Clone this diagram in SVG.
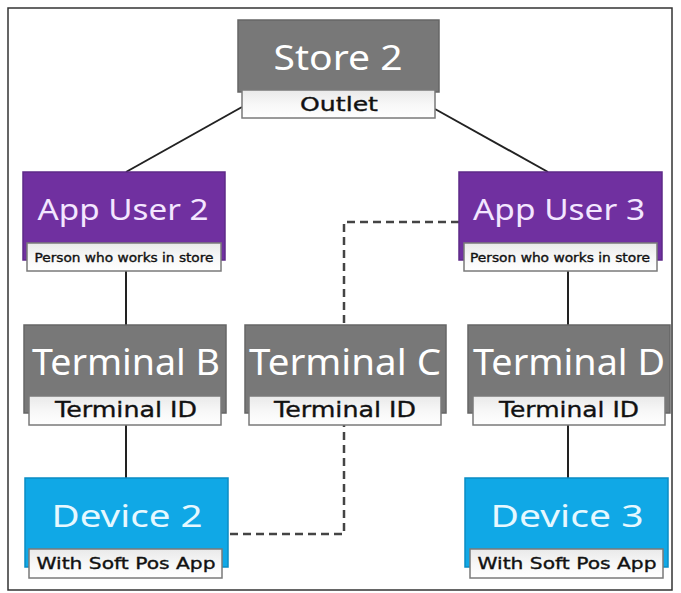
<svg xmlns="http://www.w3.org/2000/svg" width="681" height="593" viewBox="0 0 681 593">
<defs>
<linearGradient id="sub" x1="0" y1="0" x2="0" y2="1">
<stop offset="0" stop-color="#e9e9e9"/>
<stop offset="0.5" stop-color="#f7f7f7"/>
<stop offset="1" stop-color="#ffffff"/>
</linearGradient>
</defs>
<style>
.gray{fill:#787878;stroke:#666;stroke-width:1.5}
.purple{fill:#7030a0;stroke:#5e2a88;stroke-width:1.5}
.blue{fill:#10a8e6;stroke:#0a8cc4;stroke-width:1.5}
.sub{fill:url(#sub);stroke:#7a7a7a;stroke-width:1.5}
.hd{font-family:"Noto Sans","Open Sans","DejaVu Sans",sans-serif;fill:#ffffff;text-anchor:middle}
.hd2{font-family:"Noto Sans","Open Sans","DejaVu Sans",sans-serif;fill:#f3e6ff;text-anchor:middle}
.hd3{font-family:"Noto Sans","Open Sans","DejaVu Sans",sans-serif;fill:#e6f8ff;text-anchor:middle}
.st{font-family:"DejaVu Sans","Liberation Sans",sans-serif;fill:#111;stroke:#111;stroke-width:0.35;text-anchor:middle}
.ln{stroke:#222;stroke-width:2;fill:none}
.dash{stroke:#444;stroke-width:2.5;fill:none;stroke-dasharray:8 5}
</style>
<rect x="8" y="8" width="664" height="582" fill="#ffffff" stroke="#333" stroke-width="1.5"/>
<g id="connectors">
<line class="ln" x1="242" y1="107" x2="126" y2="172"/>
<line class="ln" x1="435" y1="109" x2="548" y2="172"/>
<line class="ln" x1="126" y1="270" x2="126" y2="325"/>
<line class="ln" x1="126" y1="425" x2="126" y2="478"/>
<line class="ln" x1="568" y1="270" x2="568" y2="325"/>
<line class="ln" x1="568" y1="425" x2="568" y2="478"/>
<polyline class="dash" points="230,534 344,534 344,222 459,222"/>
</g>
<g id="store2">
<rect class="gray" x="238" y="20" width="201" height="72"/>
<text class="hd" x="338" y="70" font-size="35" textLength="129" lengthAdjust="spacingAndGlyphs">Store 2</text>
<rect class="sub" x="242" y="90" width="193" height="28"/>
<text class="st" x="339" y="111" font-size="19" textLength="78" lengthAdjust="spacingAndGlyphs">Outlet</text>
</g>
<g id="appuser2">
<rect class="purple" x="23" y="172" width="202" height="88"/>
<text class="hd2" x="123" y="220" font-size="29" textLength="171" lengthAdjust="spacingAndGlyphs">App User 2</text>
<rect class="sub" x="27" y="243" width="194" height="28"/>
<text class="st" x="124" y="262" font-size="11.5" stroke-width="0.2" textLength="179" lengthAdjust="spacingAndGlyphs">Person who works in store</text>
</g>
<g id="appuser3">
<rect class="purple" x="459" y="172" width="203" height="88"/>
<text class="hd2" x="559" y="220" font-size="29" textLength="172" lengthAdjust="spacingAndGlyphs">App User 3</text>
<rect class="sub" x="464" y="243" width="193" height="28"/>
<text class="st" x="560" y="262" font-size="11.5" stroke-width="0.2" textLength="180" lengthAdjust="spacingAndGlyphs">Person who works in store</text>
</g>
<g id="terminalB">
<rect class="gray" x="24" y="325" width="202" height="88"/>
<text class="hd" x="126" y="375" font-size="36" textLength="188" lengthAdjust="spacingAndGlyphs">Terminal B</text>
<rect class="sub" x="29" y="396" width="192" height="29"/>
<text class="st" x="126" y="417" font-size="22" textLength="142" lengthAdjust="spacingAndGlyphs">Terminal ID</text>
</g>
<g id="terminalC">
<rect class="gray" x="245" y="325" width="201" height="88"/>
<text class="hd" x="345" y="375" font-size="36" textLength="192" lengthAdjust="spacingAndGlyphs">Terminal C</text>
<rect class="sub" x="249" y="396" width="192" height="29"/>
<text class="st" x="345" y="417" font-size="22" textLength="142" lengthAdjust="spacingAndGlyphs">Terminal ID</text>
</g>
<g id="terminalD">
<rect class="gray" x="468" y="325" width="202" height="88"/>
<text class="hd" x="569" y="375" font-size="36" textLength="192" lengthAdjust="spacingAndGlyphs">Terminal D</text>
<rect class="sub" x="473" y="396" width="192" height="29"/>
<text class="st" x="569" y="417" font-size="22" textLength="140" lengthAdjust="spacingAndGlyphs">Terminal ID</text>
</g>
<g id="device2">
<rect class="blue" x="25" y="478" width="203" height="89"/>
<text class="hd3" x="127" y="527" font-size="31" textLength="151" lengthAdjust="spacingAndGlyphs">Device 2</text>
<rect class="sub" x="29" y="549" width="193" height="29"/>
<text class="st" x="126" y="569" font-size="16" textLength="179" lengthAdjust="spacingAndGlyphs">With Soft Pos App</text>
</g>
<g id="device3">
<rect class="blue" x="465" y="478" width="203" height="89"/>
<text class="hd3" x="567" y="527" font-size="31" textLength="153" lengthAdjust="spacingAndGlyphs">Device 3</text>
<rect class="sub" x="470" y="549" width="193" height="29"/>
<text class="st" x="567" y="569" font-size="16" textLength="179" lengthAdjust="spacingAndGlyphs">With Soft Pos App</text>
</g>
</svg>
